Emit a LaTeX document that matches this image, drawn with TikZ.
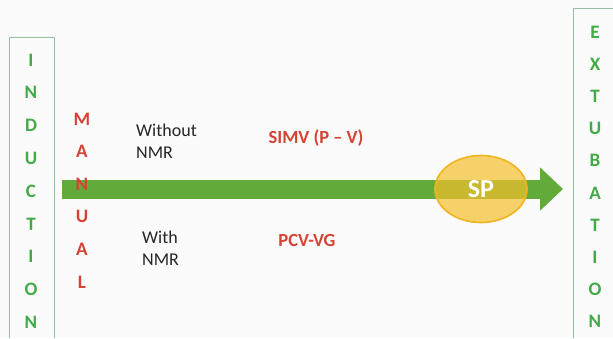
\documentclass[tikz,border=0pt]{standalone}
\usepackage{fontspec}
\setmainfont{Carlito}
\usepackage{xcolor}
\usetikzlibrary{arrows.meta, positioning, shapes.geometric}

\definecolor{lettergreen}{RGB}{66,170,70}
\definecolor{bargreen}{RGB}{98,170,58}
\definecolor{modered}{RGB}{214,66,52}
\definecolor{spyellow}{RGB}{244,192,44}
\definecolor{spedge}{RGB}{240,180,30}
\definecolor{boxline}{RGB}{150,192,160}

\begin{document}
\begin{tikzpicture}[x=1pt, y=-1pt,
        phase/.style={
            font=\fontsize{19}{19}\selectfont\bfseries,
            text=lettergreen,
            inner sep=0pt
        },
        mode/.style={
            font=\fontsize{18.5}{18.5}\selectfont\bfseries,
            text=modered,
            inner sep=0pt
        },
        note/.style={
            font=\fontsize{18}{22}\selectfont,
            text=black!85,
            align=left,
            anchor=west,
            inner sep=0pt
        },
        flow/.style={-{Triangle[length=23pt, width=42pt]}, line width=19pt, draw=bargreen},
        stage/.style={draw=boxline, line width=0.8pt}
    ]
        \fill[white!97!gray] (0,0) rectangle (613,338);
        \useasboundingbox (0,0) rectangle (613,338);

        % side boxes
        \draw[stage] (9,338) -- (9,37) -- (54,37) -- (54,338);
        \draw[stage] (573,338) -- (573,8) -- (613,8);

        % main arrow
        \coordinate (start) at (62,189);
        \coordinate (tip) at (563,189);
        \draw[flow] (start) -- (tip);

        % letter columns
        \foreach \ch [count=\i] in {I,N,D,U,C,T,I,O,N}
            \node[phase] (ind\i) at (31, 27.2+32.8*\i) {\ch};
        \foreach \ch [count=\i] in {E,X,T,U,B,A,T,I,O,N}
            \node[phase] (ext\i) at (595, -0.2+32.2*\i) {\ch};
        \foreach \ch [count=\i] in {M,A,N,U,A,L}
            \node[phase, text=modered] (man\i) at (82, 86.4+32.6*\i) {\ch};

        % modes
        \node[note] (without) at (136,141) {Without\\NMR};
        \node[note] (with) at (142,248) {With\\NMR};
        \node[mode] (simv) at (316,138) {SIMV (P -- V)};
        \node[mode] (pcv) at (307,240) {PCV-VG};

        \node[ellipse, draw=spedge, line width=1.6pt, fill=spyellow, fill opacity=0.7,
              text opacity=1, text=white, minimum width=92pt, minimum height=67pt,
              font=\fontsize{26}{26}\selectfont\bfseries] (sp) at (481,189) {SP};
\end{tikzpicture}
\end{document}
